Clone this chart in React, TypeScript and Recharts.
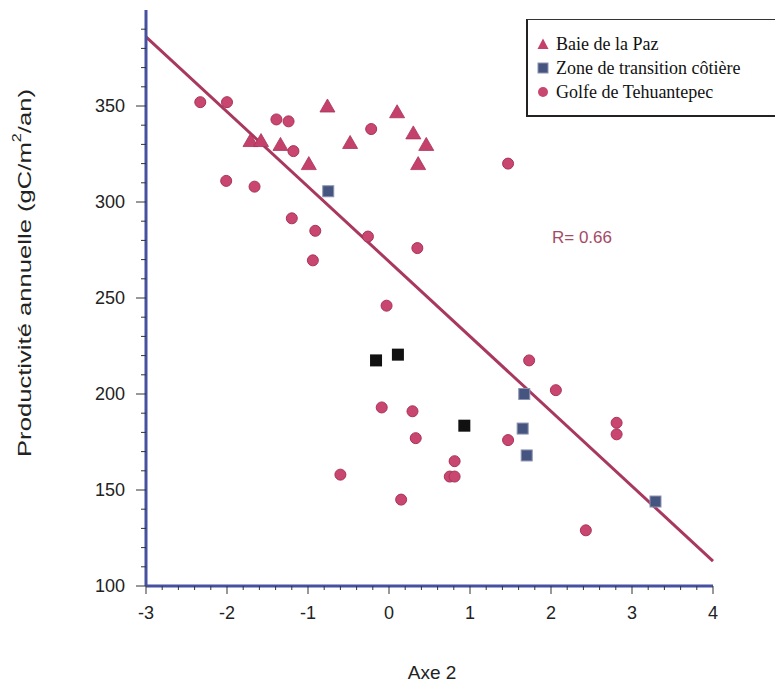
import React from 'react';
import {
  ScatterChart,
  Scatter,
  XAxis,
  YAxis,
  ReferenceLine,
  Label,
} from 'recharts';

// Baie de la Paz (triangles)
const baieX = [-1.71, -1.58, -1.34, -0.99, -0.76, -0.48, 0.1, 0.3, 0.46, 0.36];
const baieY = [332, 332, 330, 320, 350, 331, 347, 336, 330, 320];

// Zone de transition côtière (squares)
const transX = [-0.75, 1.67, 1.65, 1.7, 3.29];
const transY = [305.6, 200, 182, 168, 144];
// same zone, squares printed in black
const transDarkX = [-0.16, 0.11, 0.93];
const transDarkY = [217.5, 220.5, 183.5];

// Golfe de Tehuantepec (circles)
const golfeX = [
  -2.33, -2.0, -1.39, -1.24, -1.18, -2.01, -1.66, -0.22, -1.2, -0.91, -0.26, 0.35, -0.94, 1.47, -0.03,
  -0.09, 0.29, 0.33, 0.81, 0.75, 0.81, -0.6, 0.15, 1.73, 2.06, 1.47, 2.81, 2.81, 2.43,
];
const golfeY = [
  352, 352, 343, 342, 326.5, 311, 308, 338, 291.5, 285, 282, 276, 269.6, 320, 246,
  193, 191, 177, 165, 157, 157, 158, 145, 217.5, 202, 176, 185, 179, 129,
];

// regression line ends
const fitX = [-3, 4];
const fitY = [386, 113];

const seriesNames = ['Baie de la Paz', 'Zone de transition côtière', 'Golfe de Tehuantepec'];

const xMajor = [-3, -2, -1, 0, 1, 2, 3, 4];
const yMajor = [100, 150, 200, 250, 300, 350];
const xTicks: number[] = [];
for (let i = 0; i <= 35; i++) xTicks.push(Math.round((-3 + i * 0.2) * 10) / 10);
const yTicks: number[] = [];
for (let v = 100; v <= 390; v += 10) yTicks.push(v);

const zip = (xs: number[], ys: number[]) => xs.map((x, i) => ({ x, y: ys[i] }));

const PINK = '#c4416b';
const AXIS = '#4651a0';
const tickFont = '"Liberation Sans", Arial, sans-serif';

const Triangle = (p: any) => (
  <path
    d={`M${p.cx},${p.cy - 7} L${p.cx + 7.5},${p.cy + 6} L${p.cx - 7.5},${p.cy + 6} Z`}
    fill={PINK}
    stroke="#a8345a"
    strokeWidth={0.8}
  />
);
const Dot = (p: any) => <circle cx={p.cx} cy={p.cy} r={5.5} fill="#c8466f" stroke="#a83358" strokeWidth={1} />;
const Square = (p: any) => (
  <rect x={p.cx - 5.5} y={p.cy - 5.5} width={11} height={11} fill="#46557f" stroke="#8a93b0" strokeWidth={1} />
);
const BlackSquare = (p: any) => <rect x={p.cx - 6} y={p.cy - 6} width={12} height={12} fill="#111" />;

const YTick = (p: any) => {
  const v = p.payload.value;
  const major = yMajor.includes(v);
  return (
    <g>
      <line x1={p.x} x2={p.x - (major ? 10 : 5)} y1={p.y} y2={p.y} stroke="#333" strokeWidth={1} />
      {major && (
        <text x={p.x - 21} y={p.y} textAnchor="end" dominantBaseline="central" fontSize={18} fontFamily={tickFont} fill="#222">
          {v}
        </text>
      )}
    </g>
  );
};

const XTick = (p: any) => {
  const v = p.payload.value;
  const major = xMajor.includes(v);
  return (
    <g>
      <line x1={p.x} x2={p.x} y1={p.y} y2={p.y + (major ? 8 : 4)} stroke="#333" strokeWidth={1} />
      {major && (
        <text x={p.x} y={p.y + 33} textAnchor="middle" fontSize={18} fontFamily={tickFont} fill="#222">
          {v}
        </text>
      )}
    </g>
  );
};

const markers = [
  <svg width={12} height={12} key="t"><path d="M6,0.5 L11.5,11 L0.5,11 Z" fill={PINK} /></svg>,
  <svg width={12} height={12} key="s"><rect x={1} y={1} width={10} height={10} fill="#46557f" stroke="#8a93b0" /></svg>,
  <svg width={12} height={12} key="c"><circle cx={6} cy={6} r={5} fill="#c8466f" /></svg>,
];

const LegendBox = () => (
  <div
    style={{
      position: 'absolute',
      top: 19,
      left: 526,
      width: 249,
      borderTop: '1px solid #333',
      borderLeft: '2px solid #222',
      borderBottom: '2px solid #222',
      background: '#fff',
      padding: '12px 0 11px 9px',
      fontFamily: '"Liberation Serif", "Times New Roman", serif',
      fontSize: 18,
      color: '#111',
      boxSizing: 'border-box',
    }}
  >
    {seriesNames.map((n, i) => (
      <div key={n} style={{ display: 'flex', alignItems: 'center', height: 24, lineHeight: '24px', whiteSpace: 'nowrap' }}>
        <span style={{ width: 19, display: 'inline-flex' }}>{markers[i]}</span>
        <span>{n}</span>
      </div>
    ))}
  </div>
);

export default function App() {
  return (
    <div style={{ position: 'relative', width: 775, height: 690, background: '#fff', overflow: 'hidden' }}>
      <style>{`body{margin:0}`}</style>
      <ScatterChart width={775} height={690} margin={{ top: 10, right: 62, left: 66, bottom: 44 }}>
        <XAxis
          type="number"
          dataKey="x"
          domain={[-3, 4]}
          ticks={xTicks}
          interval={0}
          tick={<XTick />}
          tickLine={false}
          tickSize={0}
          tickMargin={0}
          axisLine={{ stroke: AXIS, strokeWidth: 3 }}
          height={60}
          allowDataOverflow
        >
          <Label
            content={() => (
              <text x={432} y={679} textAnchor="middle" fontSize={19} fontFamily={tickFont} fill="#222">
                Axe 2
              </text>
            )}
          />
        </XAxis>
        <YAxis
          type="number"
          dataKey="y"
          domain={[100, 400]}
          ticks={yTicks}
          interval={0}
          tick={<YTick />}
          tickLine={false}
          tickSize={0}
          tickMargin={0}
          axisLine={{ stroke: AXIS, strokeWidth: 3 }}
          width={80}
          allowDataOverflow
        >
          <Label
            content={() => (
              <text
                x={24}
                y={273}
                transform="rotate(-90 24 273)"
                textAnchor="middle"
                dominantBaseline="central"
                fontSize={19}
                fontFamily={tickFont}
                fill="#222"
                textLength={368}
                lengthAdjust="spacingAndGlyphs"
              >
                Productivité annuelle (gC/m<tspan dy={-7} fontSize={12}>2</tspan><tspan dy={7}>/an)</tspan>
              </text>
            )}
          />
        </YAxis>
        <ReferenceLine
          segment={[
            { x: fitX[0], y: fitY[0] },
            { x: fitX[1], y: fitY[1] },
          ]}
          stroke="#a8385e"
          strokeWidth={3}
          ifOverflow="visible"
        />
        <Scatter name={seriesNames[2]} data={zip(golfeX, golfeY)} shape={Dot} isAnimationActive={false} />
        <Scatter name={seriesNames[0]} data={zip(baieX, baieY)} shape={Triangle} isAnimationActive={false} />
        <Scatter name={seriesNames[1]} data={zip(transX, transY)} shape={Square} isAnimationActive={false} />
        <Scatter name="dark" legendType="none" data={zip(transDarkX, transDarkY)} shape={BlackSquare} isAnimationActive={false} />
        <text x={582} y={237} textAnchor="middle" dominantBaseline="central" fontSize={17} fontFamily={tickFont} fill="#a54a64">
          R= 0.66
        </text>
      </ScatterChart>
      <LegendBox />
    </div>
  );
}
